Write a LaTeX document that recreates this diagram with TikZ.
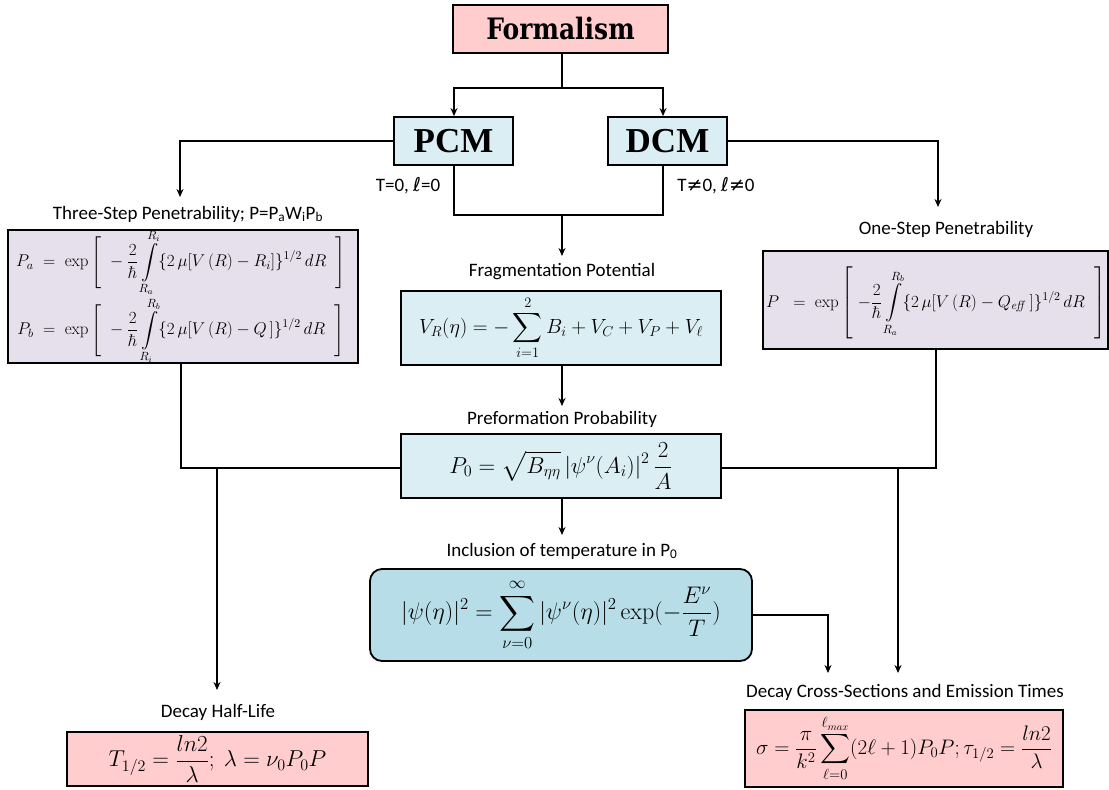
\documentclass[tikz,border=0pt]{standalone}
\usepackage{fix-cm}
\usepackage{amsmath}
\usepackage[no-math]{fontspec}
\setmainfont{Carlito}
\newfontfamily\timesfont{Liberation Serif}
\newfontfamily\formfont{DejaVu Serif}
\newfontfamily\dvs{DejaVu Sans}
\usetikzlibrary{arrows.meta}
\definecolor{pinkfill}{RGB}{255,205,205}
\definecolor{bluefill}{RGB}{218,238,243}
\definecolor{lavfill}{RGB}{229,224,236}
\definecolor{tempfill}{RGB}{183,222,232}
\tikzset{
  box/.style={draw=black, line width=1.8pt, inner sep=0pt, anchor=center},
  lbl/.style={font=\fontsize{19}{22}\selectfont, inner sep=0pt, anchor=center},
  conn/.style={line width=1.5pt},
  arr/.style={conn, -{Stealth[length=8pt,width=7pt]}},
  mathtxt/.style={font=\fontsize{22}{26}\selectfont, inner sep=0pt, anchor=center},
  pentxt/.style={font=\fontsize{17}{20}\selectfont, inner sep=0pt, anchor=center}
}
\begin{document}
\begin{tikzpicture}[x=1pt,y=-1pt]
\useasboundingbox (0,0) rectangle (1109,790);

% boxes
\node[box, fill=pinkfill, minimum width=215pt, minimum height=48pt] (form) at (560.5,29)
  {\formfont\bfseries\fontsize{25}{28}\selectfont\scalebox{1}[1.18]{Formalism}};
\node[box, fill=bluefill, minimum width=119pt, minimum height=48pt] (pcm) at (453.5,141)
  {\timesfont\bfseries\fontsize{35}{38}\selectfont PCM};
\node[box, fill=bluefill, minimum width=119pt, minimum height=48pt] (dcm) at (667.5,141)
  {\timesfont\bfseries\fontsize{35}{38}\selectfont DCM};

\node[box, fill=lavfill, minimum width=350pt, minimum height=133pt] (three) at (183,296.5) {};
\node[pentxt] (pa) at (181,263)
  {$\displaystyle P_a \;=\; \exp\Bigg[\;-\frac{2}{\hbar}\int\limits_{R_a}^{R_i}\{2\,\mu[V\,(R)-R_i]\}^{1/2}\,dR\;\;\Bigg]$};
\node[pentxt] (pb) at (181,331)
  {$\displaystyle P_b \;=\; \exp\Bigg[\;-\frac{2}{\hbar}\int\limits_{R_i}^{R_b}\{2\,\mu[V\,(R)-Q\,]\}^{1/2}\,dR\;\;\Bigg]$};

\node[box, fill=lavfill, minimum width=345pt, minimum height=98pt] (one) at (935.5,300) {};
\node[pentxt] (pone) at (936,303)
  {$\displaystyle P \;\;=\; \exp\left[\;-\frac{2}{\hbar}\int\limits_{R_a}^{R_b}\{2\,\mu[V\,(R)-Q_{\mathit{eff}}\,]\}^{1/2}\,dR\;\;\right]$};

\node[box, fill=bluefill, minimum width=320pt, minimum height=74pt, mathtxt, font=\fontsize{20.5}{24}\selectfont] (frag) at (561,328)
  {$\displaystyle V_R(\eta) = -\sum_{i=1}^{2} B_i + V_C + V_P + V_\ell$};
\node[box, fill=bluefill, minimum width=320pt, minimum height=64pt, mathtxt, font=\fontsize{23}{27}\selectfont] (p0) at (561,466)
  {$\displaystyle P_0 = \sqrt{B_{\eta\eta}}\,|\psi^\nu(A_i)|^2\,\frac{2}{A}$};
\node[box, fill=tempfill, rounded corners=12pt, minimum width=382pt, minimum height=92pt, font=\fontsize{24}{28}\selectfont] (temp) at (561,615)
  {$\displaystyle |\psi(\eta)|^2 = \sum_{\nu=0}^{\infty}|\psi^\nu(\eta)|^2\exp(-\frac{E^\nu}{T})$};
\node[box, fill=pinkfill, minimum width=301pt, minimum height=54pt, mathtxt, font=\fontsize{23}{27}\selectfont] (half) at (217.5,759)
  {$\displaystyle T_{1/2} = \frac{ln2}{\lambda};\ \lambda = \nu_0 P_0 P$};
\node[box, fill=pinkfill, minimum width=318pt, minimum height=77pt, mathtxt, font=\fontsize{21}{25}\selectfont] (cross) at (904,748.5)
  {$\displaystyle \sigma = \frac{\pi}{k^2}\sum_{\ell=0}^{\ell_{max}}(2\ell+1)P_0P;\tau_{1/2} = \frac{ln2}{\lambda}$};

% labels
\node[lbl] (lpcm) at (408,186) {T=0, {\dvs ℓ}=0};
\node[lbl] (ldcm) at (716,186) {T{\dvs ≠}0, {\dvs ℓ≠}0};
\node[lbl] (lthree) at (188,214) {Three-Step Penetrability; P=P\textsubscript{a}W\textsubscript{i}P\textsubscript{b}};
\node[lbl] (lone) at (946,229) {One-Step Penetrability};
\node[lbl] (lfrag) at (562,272) {Fragmentation Potential};
\node[lbl] (lp0) at (562,419) {Preformation Probability};
\node[lbl] (ltemp) at (562,551) {Inclusion of temperature in P\textsubscript{0}};
\node[lbl] (lhalf) at (218,712) {Decay Half-Life};
\node[lbl] (lcross) at (905,692) {Decay Cross-Sections and Emission Times};

% connector points
\coordinate (fsplit) at (562,88);
\coordinate (jn) at (562,215);
\coordinate (jl) at (181,468);
\coordinate (jr) at (936,468);

% connectors
\draw[conn] (form.south -| fsplit) -- (fsplit);
\draw[arr] (fsplit) -| (pcm.north -| 454,0);
\draw[arr] (fsplit) -| (dcm.north -| 663,0);
\draw[conn] (pcm.south -| 454,0) |- (jn) -| (dcm.south -| 663,0);
\draw[arr] (jn) -- (562,256);
\draw[arr] (pcm.west) -| (180,197);
\draw[arr] (dcm.east) -| (938,207);
\draw[arr] (frag.south -| jn) -- (562,406);
\draw[conn] (three.south -| jl) -- (jl) -- (p0.west |- jl);
\draw[arr] (217,468) -- (217,690);
\draw[conn] (one.south -| jr) -- (jr) -- (p0.east |- jr);
\draw[arr] (898,468) -- (898,673);
\draw[arr] (p0.south -| jn) -- (562,535);
\draw[arr] (temp.east) -| (828,673);
\end{tikzpicture}
\end{document}
